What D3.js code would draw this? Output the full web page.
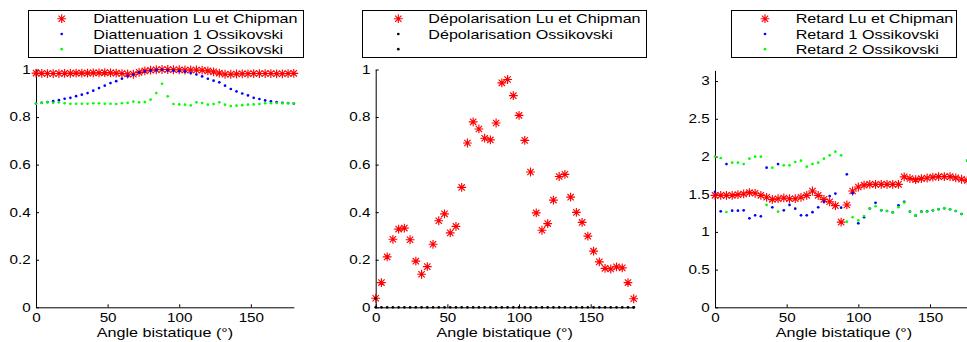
<!DOCTYPE html>
<html><head><meta charset="utf-8">
<script src="https://cdn.jsdelivr.net/npm/d3@7"></script>
<style>
body{margin:0;background:#fff}
svg{display:block}
text{font-family:"Liberation Sans",Arial,Helvetica,sans-serif;fill:#000}
</style>
</head><body>
<svg id="c" width="967" height="342"></svg>
<script>
// ---------- DATA ----------
const angles = [0,4,8,12,16,20,24,28,32,36,40,44,48,52,56,60,64,68,72,76,80,84,88,92,96,100,104,108,112,116,120,124,128,132,136,140,144,148,152,156,160,164,168,172,176,180];

const diatLuChipman = [0.985,0.984,0.983,0.983,0.983,0.984,0.984,0.985,0.985,0.985,0.986,0.986,0.987,0.986,0.985,0.983,0.981,0.980,0.988,0.994,0.997,0.999,1.000,1.000,0.999,0.999,0.998,0.998,0.998,0.997,0.994,0.990,0.985,0.980,0.980,0.981,0.982,0.982,0.983,0.983,0.983,0.983,0.982,0.982,0.983,0.984];
const diatOssi1 = [0.856,0.860,0.863,0.867,0.871,0.877,0.881,0.888,0.894,0.901,0.911,0.922,0.932,0.943,0.951,0.961,0.972,0.979,0.988,0.992,0.996,0.997,0.999,0.996,0.995,0.993,0.991,0.985,0.979,0.971,0.961,0.953,0.946,0.932,0.918,0.908,0.899,0.891,0.881,0.876,0.870,0.866,0.863,0.860,0.859,0.857];
const diatOssi2 = [0.856,0.860,0.862,0.860,0.862,0.858,0.856,0.856,0.856,0.856,0.858,0.858,0.856,0.856,0.855,0.858,0.860,0.865,0.862,0.863,0.873,0.901,0.940,0.887,0.855,0.853,0.852,0.849,0.862,0.859,0.852,0.855,0.862,0.852,0.846,0.848,0.850,0.852,0.853,0.855,0.858,0.858,0.859,0.858,0.858,0.858];

const depolLuChipman = [0.038,0.104,0.212,0.286,0.329,0.333,0.284,0.194,0.139,0.171,0.265,0.364,0.393,0.313,0.340,0.504,0.691,0.780,0.750,0.711,0.704,0.775,0.944,0.958,0.890,0.807,0.702,0.569,0.397,0.324,0.352,0.451,0.550,0.559,0.463,0.399,0.357,0.299,0.236,0.191,0.164,0.161,0.170,0.166,0.104,0.036];
const depolOssi = [0,0,0,0,0,0,0,0,0,0,0,0,0,0,0,0,0,0,0,0,0,0,0,0,0,0,0,0,0,0,0,0,0,0,0,0,0,0,0,0,0,0,0,0,0,0];
const depolExtraAngles = [0,180];
const depolExtra = [0.038,0.0];

const retLuChipman = [1.485,1.485,1.485,1.485,1.494,1.503,1.520,1.512,1.485,1.459,1.432,1.440,1.450,1.440,1.440,1.459,1.485,1.542,1.485,1.432,1.400,1.348,1.129,1.357,1.542,1.595,1.620,1.631,1.631,1.631,1.631,1.631,1.631,1.730,1.708,1.694,1.706,1.715,1.726,1.732,1.733,1.732,1.717,1.698,1.684,1.680];
const retOssi1 = [1.530,1.273,1.900,1.281,1.281,1.286,1.180,1.220,1.207,1.852,1.326,1.900,1.286,1.357,1.308,1.220,1.220,1.262,1.326,1.401,1.476,1.508,1.321,1.764,1.513,1.114,1.194,1.310,1.385,1.286,1.277,1.260,1.353,1.400,1.268,1.215,1.268,1.273,1.286,1.300,1.313,1.300,1.277,1.237,1.944,1.950];
const retOssi2 = [2.000,1.980,1.264,1.918,1.918,1.900,1.971,1.997,1.997,1.357,1.852,1.268,1.883,1.883,1.927,1.944,1.865,1.900,1.918,1.971,2.016,2.064,2.016,1.135,1.194,1.152,1.211,1.313,1.340,1.290,1.277,1.260,1.328,1.389,1.268,1.215,1.265,1.270,1.286,1.302,1.315,1.300,1.277,1.237,1.944,1.950];

const xTicks = [0,50,100,150];
const xTickLabels = ["0","50","100","150"];
const yTicksA = [0,0.2,0.4,0.6,0.8,1];
const yTickLabelsA = ["0","0.2","0.4","0.6","0.8","1"];
const yTicksC = [0,0.5,1,1.5,2,2.5,3];
const yTickLabelsC = ["0","0.5","1","1.5","2","2.5","3"];
const xLabel = "Angle bistatique (°)";

const legend1 = ["Diattenuation Lu et Chipman","Diattenuation 1 Ossikovski","Diattenuation 2 Ossikovski"];
const legend2 = ["Dépolarisation Lu et Chipman","Dépolarisation Ossikovski",""];
const legend3 = ["Retard Lu et Chipman","Retard 1 Ossikovski","Retard 2 Ossikovski"];

// ---------- DRAWING ----------
const svg = d3.select("#c");
const SX = 1.27;      // horizontal stretch of the reference text
const FS = 12.7;
const RED = "#ff0000", BLUE = "#0000ff", GREEN = "#00ff00", BLACK = "#000000";

function starPath(r){
  const d = r*0.72;
  return `M${-r},0H${r}M0,${-r}V${r}M${-d},${-d}L${d},${d}M${-d},${d}L${d},${-d}`;
}

function sText(g, x, y, str, anchor, size){
  const t = g.append("g").attr("transform",`translate(${x},${y})`)
    .append("text").attr("transform",`scale(${SX},1)`)
    .attr("text-anchor",anchor||"start").attr("font-size",size||FS).text(str);
  return t;
}

const panels = [
  {xr:[36,293.8], yr:[307.3,69.5], yd:[0,1], yt:yTicksA, yl:yTickLabelsA,
   series:[
     {xs:angles, ys:diatLuChipman, m:"star", c:RED},
     {xs:angles, ys:diatOssi1, m:"dot", c:BLUE},
     {xs:angles, ys:diatOssi2, m:"dot", c:GREEN}],
   legend:{labels:legend1, marks:[["star",RED],["dot",BLUE],["dot",GREEN]], box:[27.7,10,302.7,56.7], mx:61.7, tx:93.3}},
  {xr:[375.7,633.7], yr:[307.3,69.5], yd:[0,1], yt:yTicksA, yl:yTickLabelsA,
   series:[
     {xs:angles, ys:depolLuChipman, m:"star", c:RED},
     {xs:angles, ys:depolOssi, m:"dot", c:BLACK},
     {xs:depolExtraAngles, ys:depolExtra, m:"dot", c:BLACK}],
   legend:{labels:legend2, marks:[["star",RED],["dot",BLACK],["dot",BLACK]], box:[362.3,9.5,646.7,56.7], mx:398.3, tx:428.3}},
  {xr:[715,973], yr:[307.3,70.4], yd:[0,Math.PI], yt:yTicksC, yl:yTickLabelsC,
   series:[
     {xs:angles, ys:retLuChipman, m:"star", c:RED},
     {xs:angles, ys:retOssi1, m:"dot", c:BLUE},
     {xs:angles, ys:retOssi2, m:"dot", c:GREEN}],
   legend:{labels:legend3, marks:[["star",RED],["dot",BLUE],["dot",GREEN]], box:[730.7,9.5,956,56.7], mx:765, tx:795.7}}
];

panels.forEach(p=>{
  const x = d3.scaleLinear().domain([0,180]).range(p.xr);
  const y = d3.scaleLinear().domain(p.yd).range(p.yr);
  const g = svg.append("g");

  // axes
  const ax = g.append("g").attr("transform",`translate(0,${p.yr[0]})`)
    .call(d3.axisBottom(x).tickValues(xTicks).tickFormat((d,i)=>xTickLabels[i])
      .tickSizeInner(-3).tickSizeOuter(0).tickPadding(6.6));
  const ay = g.append("g").attr("transform",`translate(${p.xr[0]},0)`)
    .call(d3.axisLeft(y).tickValues(p.yt).tickFormat((d,i)=>p.yl[i])
      .tickSizeInner(-3).tickSizeOuter(0).tickPadding(4.2));
  [ax,ay].forEach(a=>{
    a.select(".domain").attr("stroke","#000").attr("stroke-width",1);
    a.selectAll(".tick line").attr("stroke","#000");
    a.selectAll(".tick text").attr("font-family",null).attr("font-size",12)
      .attr("fill","#000").attr("transform",`scale(${SX},1)`);
  });

  // x label
  sText(g, (p.xr[0]+p.xr[1])/2, 336.5, xLabel, "middle");

  // data
  p.series.forEach(s=>{
    const pts = s.xs.map((a,i)=>[a,s.ys[i]]);
    if(s.m==="star"){
      g.append("g").selectAll("path").data(pts).join("path")
        .attr("transform",d=>`translate(${x(d[0])},${y(d[1])})`)
        .attr("d",starPath(4.4)).attr("stroke",s.c).attr("stroke-width",1.15).attr("fill","none");
    } else {
      g.append("g").selectAll("circle").data(pts).join("circle")
        .attr("cx",d=>x(d[0])).attr("cy",d=>y(d[1])).attr("r",1.35).attr("fill",s.c);
    }
  });

  // legend
  const L = p.legend, b = L.box;
  const lg = svg.append("g");
  lg.append("rect").attr("x",Math.round(b[0])+0.5).attr("y",Math.round(b[1])+0.5)
    .attr("width",Math.round(b[2]-b[0])).attr("height",Math.round(b[3]-b[1]))
    .attr("fill","#fff").attr("stroke","#000").attr("stroke-width",1);
  const rowsY = [18.7,34,49.2];
  L.labels.forEach((lab,i)=>{
    const [m,c] = L.marks[i];
    if(m==="star"){
      lg.append("path").attr("transform",`translate(${L.mx},${rowsY[i]})`)
        .attr("d",starPath(4.4)).attr("stroke",c).attr("stroke-width",1.15).attr("fill","none");
    } else {
      lg.append("circle").attr("cx",L.mx).attr("cy",rowsY[i]).attr("r",1.35).attr("fill",c);
    }
    if(lab) sText(lg, L.tx, rowsY[i]+4.6, lab, "start");
  });
});
</script>
</body></html>
